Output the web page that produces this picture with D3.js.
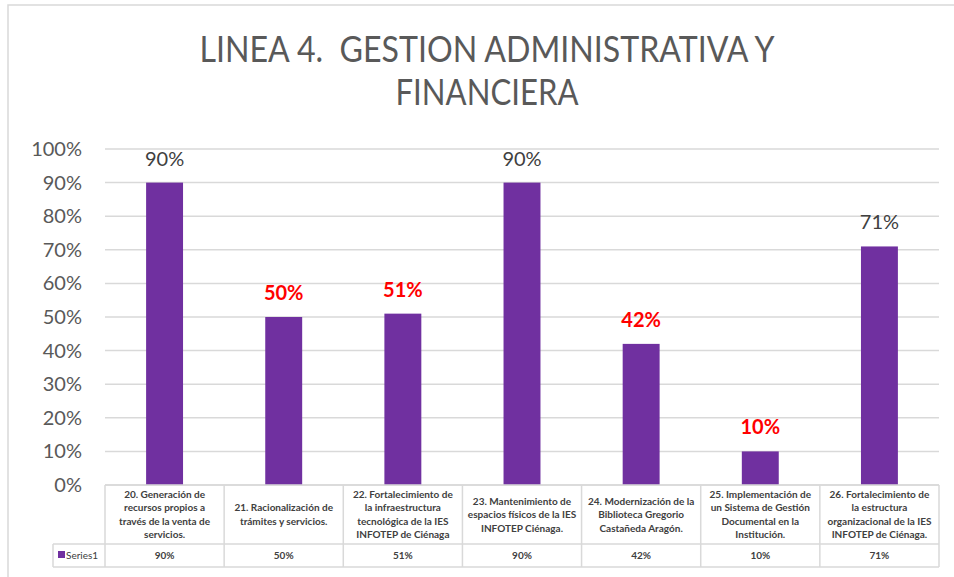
<!DOCTYPE html>
<html>
<head>
<meta charset="utf-8">
<script src="https://cdn.jsdelivr.net/npm/d3@7"></script>
<style>
  html, body { margin: 0; padding: 0; background: #fff; }
  svg { display: block; }
  .pre { white-space: pre; }
</style>
</head>
<body>
<svg id="chart" width="954" height="577"></svg>
<script>
const titleLines = ["LINEA 4.  GESTION ADMINISTRATIVA Y", "FINANCIERA"];
const categories = [
  "20. Generación de\nrecursos propios a\ntravés de la venta de\nservicios.",
  "21. Racionalización de\ntrámites y servicios.",
  "22. Fortalecimiento de\nla infraestructura\ntecnológica de la IES\nINFOTEP de Ciénaga",
  "23. Mantenimiento de\nespacios físicos de la IES\nINFOTEP Ciénaga.",
  "24. Modernización de la\nBiblioteca Gregorio\nCastañeda Aragón.",
  "25. Implementación de\nun Sistema de Gestión\nDocumental en la\nInstitución.",
  "26. Fortalecimiento de\nla estructura\norganizacional de la IES\nINFOTEP de Ciénaga."
];
const values = [0.90, 0.50, 0.51, 0.90, 0.42, 0.10, 0.71];
const seriesName = "Series1";
const yTicks = [0, 0.1, 0.2, 0.3, 0.4, 0.5, 0.6, 0.7, 0.8, 0.9, 1.0];

const svg = d3.select("#chart");
const W = 954, H = 577;
const plot = { left: 105, right: 939, top: 149, bottom: 485 };
const tableRow1Bottom = 544, tableRow2Bottom = 567, legendLeft = 53;
const grid = "#d9d9d9";
const textGray = "#595959";
const fontMain = "Lato, 'Liberation Sans', sans-serif";

// frame
svg.append("rect").attr("x", 0).attr("y", 0).attr("width", W).attr("height", H).attr("fill", "#fff");
svg.append("rect").attr("x", 8).attr("y", 5).attr("width", W + 20).attr("height", H + 20)
  .attr("fill", "#fff").attr("stroke", grid).attr("stroke-width", 1.5);

// title
const title = svg.append("g");
const titleWidths = [575, 183];
titleLines.forEach((t, i) => {
  title.append("text")
    .attr("class", "pre")
    .attr("x", 487).attr("y", 62 + i * 43)
    .attr("text-anchor", "middle")
    .attr("font-family", fontMain)
    .attr("font-size", 36)
    .attr("fill", textGray)
    .attr("textLength", titleWidths[i])
    .attr("lengthAdjust", "spacingAndGlyphs")
    .text(t);
});

const x = d3.scaleBand().domain(categories).range([plot.left, plot.right]).paddingInner(0).paddingOuter(0);
const y = d3.scaleLinear().domain([0, 1]).range([plot.bottom, plot.top]);
const barW = x.bandwidth() * 0.31;

// gridlines
svg.append("g").selectAll("line").data(yTicks).join("line")
  .attr("x1", plot.left).attr("x2", plot.right)
  .attr("y1", d => y(d)).attr("y2", d => y(d))
  .attr("stroke", grid).attr("stroke-width", 1.5);

// y axis
const yAxis = svg.append("g").attr("transform", `translate(${plot.left},0)`)
  .call(d3.axisLeft(y).tickValues(yTicks).tickFormat(d3.format(".0%")).tickSize(0).tickPadding(23));
yAxis.select(".domain").remove();
yAxis.selectAll("text").attr("font-family", fontMain).attr("font-size", 20).attr("fill", textGray);

// bars
svg.append("g").selectAll("rect").data(values).join("rect")
  .attr("x", (d, i) => x(categories[i]) + (x.bandwidth() - barW) / 2)
  .attr("width", barW)
  .attr("y", d => y(d))
  .attr("height", d => y(0) - y(d))
  .attr("fill", "#7030A0");

// data labels
svg.append("g").selectAll("text").data(values).join("text")
  .attr("x", (d, i) => x(categories[i]) + x.bandwidth() / 2)
  .attr("y", d => y(d) - 17)
  .attr("text-anchor", "middle")
  .attr("font-family", fontMain)
  .attr("font-size", 20)
  .attr("font-weight", d => d < 0.6 ? "bold" : "normal")
  .attr("fill", d => d < 0.6 ? "#ff0000" : "#404040")
  .text(d => d3.format(".0%")(d));

// data table
const tbl = svg.append("g").attr("stroke", grid).attr("stroke-width", 1.5);
tbl.append("line").attr("x1", plot.left).attr("x2", plot.right).attr("y1", plot.bottom).attr("y2", plot.bottom);
tbl.append("line").attr("x1", legendLeft).attr("x2", plot.right).attr("y1", tableRow1Bottom).attr("y2", tableRow1Bottom);
tbl.append("line").attr("x1", legendLeft).attr("x2", plot.right).attr("y1", tableRow2Bottom).attr("y2", tableRow2Bottom);
tbl.append("line").attr("x1", legendLeft).attr("x2", legendLeft).attr("y1", tableRow1Bottom).attr("y2", tableRow2Bottom);
const edges = categories.map(c => x(c)).concat([plot.right]);
tbl.selectAll("line.v").data(edges).join("line").attr("class", "v")
  .attr("x1", d => d).attr("x2", d => d).attr("y1", plot.bottom).attr("y2", tableRow2Bottom);

// category labels
const lineH = 13.5;
const catG = svg.append("g");
categories.forEach(c => {
  const lines = c.split("\n");
  const cy = (plot.bottom + tableRow1Bottom) / 2;
  const y0 = cy - (lines.length - 1) * lineH / 2 + 3.5;
  lines.forEach((ln, j) => {
    const t = catG.append("text")
      .attr("x", x(c) + x.bandwidth() / 2)
      .attr("y", y0 + j * lineH)
      .attr("text-anchor", "middle")
      .attr("font-family", fontMain)
      .attr("font-size", 10)
      .attr("font-weight", "bold")
      .attr("fill", "#404040")
      .text(ln);
    const w = t.node().getComputedTextLength();
    if (w > x.bandwidth() - 6) t.attr("textLength", x.bandwidth() - 6).attr("lengthAdjust", "spacingAndGlyphs");
  });
});

// values row
svg.append("g").selectAll("text").data(values).join("text")
  .attr("x", (d, i) => x(categories[i]) + x.bandwidth() / 2)
  .attr("y", 559)
  .attr("text-anchor", "middle")
  .attr("font-family", fontMain)
  .attr("font-size", 10)
  .attr("font-weight", "bold")
  .attr("fill", "#404040")
  .text(d => d3.format(".0%")(d));

// legend key in table
svg.append("rect").attr("x", 58).attr("y", 551).attr("width", 7).attr("height", 7).attr("fill", "#7030A0");
svg.append("text").attr("x", 66).attr("y", 559)
  .attr("font-family", fontMain).attr("font-size", 10).attr("fill", "#404040")
  .text(seriesName);
</script>
</body>
</html>
